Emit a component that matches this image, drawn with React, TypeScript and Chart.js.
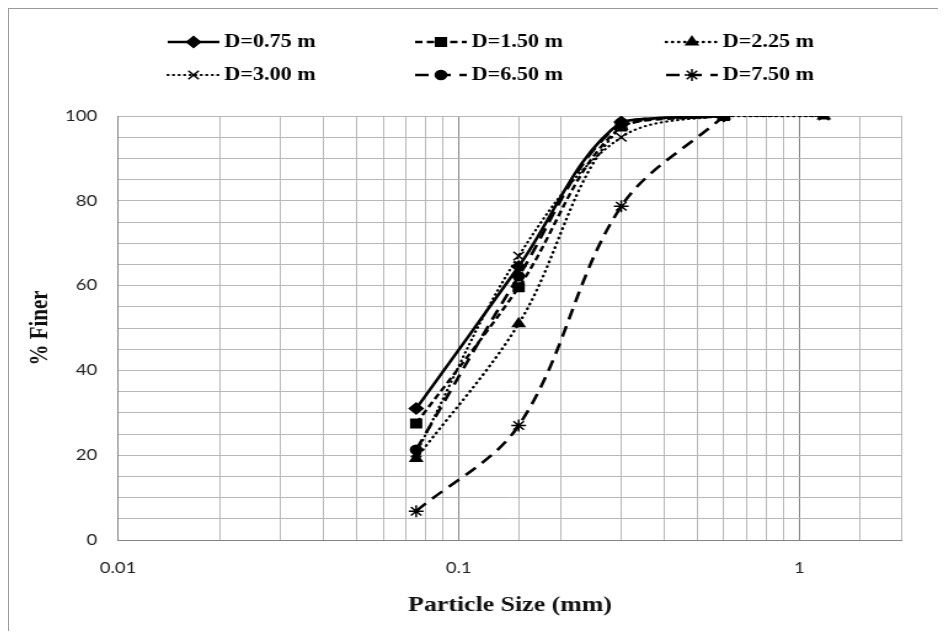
import { useEffect, useRef } from 'react';
import { Chart, registerables } from 'chart.js';
import { drawPoint } from 'chart.js/helpers';

Chart.register(...registerables);

// Sieve openings (mm) and cumulative percent finer for each depth
const sieveSizes = [0.075, 0.15, 0.3, 0.6, 1.18];
const seriesLabels = ['D=0.75 m', 'D=1.50 m', 'D=2.25 m', 'D=3.00 m', 'D=6.50 m', 'D=7.50 m'];
const finerD075 = [31, 64.5, 98.6, 100];
const finerD150 = [27.5, 59.6, 97.5, 100];
const finerD225 = [19.2, 51, 97.5, 100, 100];
const finerD300 = [20.5, 67, 95, 100, 100];
const finerD650 = [21.3, 62.2, 98.4, 100];
const finerD750 = [6.8, 27, 78.7, 100];
const xTickLabels = ['0.01', '0.1', '1'];
const yTickLabels = ['0', '20', '40', '60', '80', '100'];

const seriesValues = [finerD075, finerD150, finerD225, finerD300, finerD650, finerD750];

// Chart drawn in a narrower box, then widened horizontally
const BOX_W = 929;
const BOX_H = 622;
const CANVAS_W = 755;
const STRETCH = BOX_W / CANVAS_W;

const Y_AXIS_WIDTH = 88.6;
const X_AXIS_HEIGHT = 91;
const PAD_TOP = 107;
const PAD_RIGHT = CANVAS_W - 725.7;

const LEGEND_COL_X = [129, 330, 534];
const LEGEND_ROW_Y = [33, 66];
const LEGEND_LINE_LEN = 42;
const LEGEND_TEXT_GAP = 46;

type SeriesStyle = {
  pointStyle: string;
  pointRadius: number;
  dash: number[];
  width: number;
  cap: CanvasLineCap;
};

const seriesStyles: SeriesStyle[] = [
  { pointStyle: 'rectRot', pointRadius: 5.5, dash: [], width: 2.6, cap: 'butt' },
  { pointStyle: 'rect', pointRadius: 6, dash: [6, 3.5], width: 2.4, cap: 'butt' },
  { pointStyle: 'triangle', pointRadius: 5.5, dash: [0.5, 4.5], width: 2.4, cap: 'round' },
  { pointStyle: 'crossRot', pointRadius: 6, dash: [0.5, 4], width: 2.2, cap: 'round' },
  { pointStyle: 'circle', pointRadius: 4.5, dash: [11, 7], width: 2.6, cap: 'butt' },
  { pointStyle: 'star', pointRadius: 6, dash: [11, 7], width: 2.6, cap: 'butt' },
];

const isDecade = (v: number) => {
  const d = Math.log10(v);
  return Math.abs(d - Math.round(d)) < 1e-9;
};

const gridLegend = {
  id: 'gridLegend',
  afterDraw(chart: any) {
    const ctx: CanvasRenderingContext2D = chart.ctx;
    chart.data.datasets.forEach((ds: any, i: number) => {
      const x0 = LEGEND_COL_X[i % 3];
      const y = LEGEND_ROW_Y[Math.floor(i / 3)];
      ctx.save();
      ctx.strokeStyle = ds.borderColor;
      ctx.lineWidth = ds.borderWidth;
      ctx.lineCap = ds.borderCapStyle;
      ctx.setLineDash(ds.borderDash);
      ctx.beginPath();
      ctx.moveTo(x0, y);
      ctx.lineTo(x0 + LEGEND_LINE_LEN, y);
      ctx.stroke();
      ctx.setLineDash([]);
      ctx.lineCap = 'butt';
      ctx.fillStyle = ds.pointBackgroundColor;
      ctx.strokeStyle = ds.pointBorderColor;
      ctx.lineWidth = ds.pointBorderWidth;
      drawPoint(
        ctx,
        { pointStyle: ds.pointStyle, radius: ds.pointRadius, rotation: 0, borderWidth: ds.pointBorderWidth } as any,
        x0 + LEGEND_LINE_LEN / 2,
        y
      );
      ctx.fillStyle = '#000';
      ctx.font = 'bold 18px "Liberation Serif", "Times New Roman", serif';
      ctx.textBaseline = 'middle';
      ctx.textAlign = 'left';
      ctx.fillText(ds.label, x0 + LEGEND_TEXT_GAP, y);
      ctx.restore();
    });
  },
};

export default function App() {
  const canvasRef = useRef<HTMLCanvasElement>(null);

  useEffect(() => {
    const canvas = canvasRef.current;
    if (!canvas) return;

    const datasets = seriesValues.map((values, i) => {
      const st = seriesStyles[i];
      return {
        label: seriesLabels[i],
        data: values.map((y, j) => ({ x: sieveSizes[j], y })),
        borderColor: '#000',
        backgroundColor: '#000',
        borderWidth: st.width,
        borderDash: st.dash,
        borderCapStyle: st.cap,
        pointStyle: st.pointStyle,
        pointRadius: st.pointRadius,
        pointBackgroundColor: '#000',
        pointBorderColor: '#000',
        pointBorderWidth: 1.5,
        tension: 0.35,
        fill: false,
        order: seriesValues.length - i,
      };
    });

    const tickFont = { family: 'Lato, "Open Sans", sans-serif', size: 15 };
    const titleFont = { family: '"Liberation Serif", "Times New Roman", serif', size: 21, weight: 'bold' as const };

    const chart = new Chart(canvas, {
      type: 'line',
      data: { datasets: datasets as any },
      options: {
        animation: false,
        responsive: true,
        maintainAspectRatio: false,
        devicePixelRatio: 1,
        layout: { padding: { top: PAD_TOP, right: PAD_RIGHT, left: 0, bottom: 0 } },
        plugins: {
          legend: { display: false },
          tooltip: { enabled: false },
        },
        scales: {
          x: {
            type: 'logarithmic',
            min: 0.01,
            max: 2,
            afterFit: (scale: any) => {
              scale.height = X_AXIS_HEIGHT;
            },
            grid: {
              drawTicks: false,
              color: (c: any) => (c.tick && isDecade(c.tick.value) ? '#858585' : '#b8b8b8'),
              lineWidth: 1,
            },
            border: { color: '#858585', width: 1 },
            ticks: {
              autoSkip: false,
              maxRotation: 0,
              minRotation: 0,
              padding: 19,
              color: '#222',
              font: tickFont,
              callback: (value: any) => {
                const v = Number(value);
                if (!isDecade(v)) return '';
                return xTickLabels[Math.round(Math.log10(v)) + 2] ?? '';
              },
            },
            title: {
              display: true,
              text: 'Particle Size (mm)',
              color: '#111',
              font: titleFont,
              padding: { top: 0, bottom: 13 },
            },
          },
          y: {
            type: 'linear',
            min: 0,
            max: 100,
            afterFit: (scale: any) => {
              scale.width = Y_AXIS_WIDTH;
            },
            grid: { drawTicks: false, color: '#b8b8b8', lineWidth: 1 },
            border: { color: '#858585', width: 1 },
            ticks: {
              stepSize: 5,
              autoSkip: false,
              padding: 17,
              color: '#222',
              font: tickFont,
              callback: (value: any) => {
                const v = Number(value);
                return v % 20 === 0 ? yTickLabels[v / 20] : '';
              },
            },
            title: {
              display: true,
              text: '% Finer',
              color: '#111',
              font: titleFont,
              padding: { top: 13, bottom: 0 },
            },
          },
        },
      },
      plugins: [gridLegend],
    });

    return () => chart.destroy();
  }, []);

  return (
    <div
      style={{
        width: BOX_W,
        height: BOX_H,
        borderTop: '1px solid #9a9a9a',
        borderLeft: '1px solid #9a9a9a',
        borderRight: '1px solid #9a9a9a',
        overflow: 'hidden',
        background: '#fff',
      }}
    >
      <div
        style={{
          width: CANVAS_W,
          height: BOX_H,
          position: 'relative',
          transform: `scaleX(${STRETCH})`,
          transformOrigin: '0 0',
        }}
      >
        <canvas ref={canvasRef} />
      </div>
    </div>
  );
}
